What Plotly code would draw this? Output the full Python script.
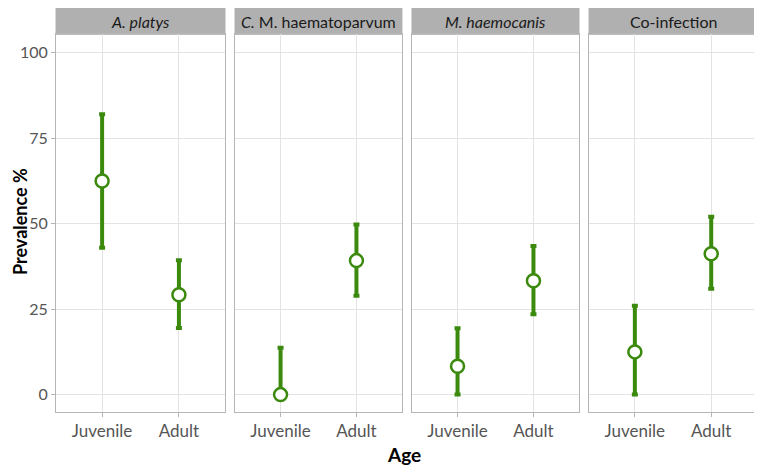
import plotly.graph_objects as go

# data
panels = ["<i>A. platys</i>", "<i>C.</i> M. haematoparvum", "<i>M. haemocanis</i>", "Co-infection"]
ages = ["Juvenile", "Adult"]
prev = [[62.5, 29.2], [0.0, 39.2], [8.3, 33.3], [12.5, 41.2]]
lower = [[43.0, 19.5], [0.0, 28.9], [0.0, 23.5], [0.0, 31.0]]
upper = [[82.0, 39.3], [13.7, 49.8], [19.4, 43.5], [26.0, 52.0]]
y_ticks = [0, 25, 50, 75, 100]

GREEN = "#3b8a0e"
GRID = "#e3e3e3"
BORDER = "#b5b5b5"
STRIP = "#b0b0b0"
FONT = "Lato, Open Sans, sans-serif"

# the page adds an 8px body margin, so the figure is 8px smaller each way
W, H = 754, 465
x_domains = [(0.0637, 0.2878), (0.3011, 0.5225), (0.5358, 0.7573), (0.7706, 0.9934)]
y_domain = (0.1318, 0.9434)

fig = go.Figure()
shapes = []
annotations = []

for i, name in enumerate(panels):
    ax = "" if i == 0 else str(i + 1)
    err_plus = [u - p for u, p in zip(upper[i], prev[i])]
    err_minus = [p - l for p, l in zip(prev[i], lower[i])]
    fig.add_trace(go.Scatter(
        x=ages, y=prev[i], mode="markers",
        xaxis="x" + ax, yaxis="y" + ax,
        marker=dict(symbol="circle", size=13, color="white",
                    line=dict(color=GREEN, width=2.5)),
        error_y=dict(type="data", symmetric=False, array=err_plus,
                     arrayminus=err_minus, color=GREEN, thickness=4, width=3),
        showlegend=False,
    ))
    axis_common = dict(showline=True, linecolor=BORDER, linewidth=1, mirror=True,
                       showgrid=True, gridcolor=GRID, gridwidth=1,
                       zeroline=False, automargin=False)
    fig.update_layout(**{
        "xaxis" + ax: dict(axis_common, domain=list(x_domains[i]), anchor="y" + ax,
                           type="category", categoryorder="array", categoryarray=ages,
                           range=[-0.6, 1.6], ticks="outside", ticklen=4,
                           tickcolor=BORDER,
                           tickfont=dict(family=FONT, size=17, color="#555555")),
        "yaxis" + ax: dict(axis_common, domain=list(y_domain), anchor="x" + ax,
                           range=[-5, 105.4], tickvals=y_ticks,
                           showticklabels=(i == 0), ticks="outside" if i == 0 else "",
                           ticklen=4, tickcolor=BORDER,
                           tickfont=dict(family=FONT, size=16, color="#555555"),
                           **({} if i == 0 else {"matches": "y"})),
    })
    # facet strip
    shapes.append(dict(type="rect", xref="paper", yref="paper",
                       x0=x_domains[i][0], x1=x_domains[i][1],
                       y0=y_domain[1], y1=1.0,
                       fillcolor=STRIP, line=dict(color=STRIP, width=1), layer="below"))
    annotations.append(dict(text=name, xref="paper", yref="paper",
                            x=(x_domains[i][0] + x_domains[i][1]) / 2,
                            y=y_domain[1] + 0.003,
                            showarrow=False, xanchor="center", yanchor="bottom",
                            font=dict(family=FONT, size=16, color="#1a1a1a")))

annotations.append(dict(text="<b>Age</b>", xref="paper", yref="paper",
                        x=0.525, y=0.039, showarrow=False,
                        xanchor="center", yanchor="middle",
                        font=dict(family=FONT, size=19, color="black")))
annotations.append(dict(text="<b>Prevalence %</b>", xref="paper", yref="paper",
                        x=0.016, y=0.54, showarrow=False, textangle=-90,
                        xanchor="center", yanchor="middle",
                        font=dict(family=FONT, size=18, color="black")))

fig.update_layout(
    width=W, height=H,
    margin=dict(l=0, r=0, t=0, b=0),
    plot_bgcolor="white", paper_bgcolor="white",
    shapes=shapes, annotations=annotations,
    font=dict(family=FONT),
)

fig.write_html("out.html")
